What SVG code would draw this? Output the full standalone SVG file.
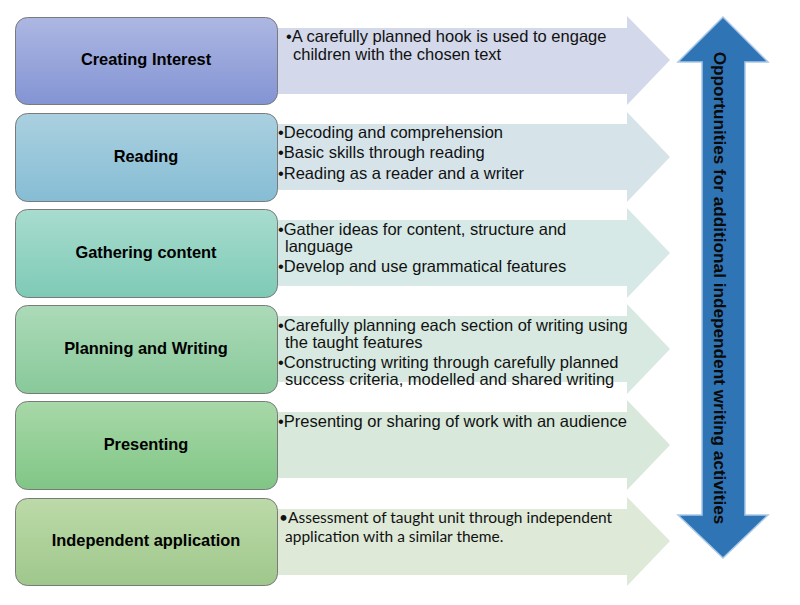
<svg xmlns="http://www.w3.org/2000/svg" width="800" height="605" viewBox="0 0 800 605">
<defs>
<linearGradient id="g1" x1="0" y1="0" x2="0" y2="1"><stop offset="0" stop-color="#adb7e2"/><stop offset="1" stop-color="#8394d4"/></linearGradient>
<linearGradient id="g2" x1="0" y1="0" x2="0" y2="1"><stop offset="0" stop-color="#aad0e0"/><stop offset="1" stop-color="#86bdd4"/></linearGradient>
<linearGradient id="g3" x1="0" y1="0" x2="0" y2="1"><stop offset="0" stop-color="#a8dcce"/><stop offset="1" stop-color="#7ecab6"/></linearGradient>
<linearGradient id="g4" x1="0" y1="0" x2="0" y2="1"><stop offset="0" stop-color="#acdab8"/><stop offset="1" stop-color="#88c99a"/></linearGradient>
<linearGradient id="g5" x1="0" y1="0" x2="0" y2="1"><stop offset="0" stop-color="#a8d8a8"/><stop offset="1" stop-color="#80c686"/></linearGradient>
<linearGradient id="g6" x1="0" y1="0" x2="0" y2="1"><stop offset="0" stop-color="#bcdaa8"/><stop offset="1" stop-color="#9fc78c"/></linearGradient>
</defs>
<style>
.box{stroke:#7a7a7a;stroke-width:1}
.lbl{font-family:"Liberation Sans",Arial,sans-serif;font-weight:bold;font-size:16.4px;fill:#000;text-anchor:middle}
.txt{font-family:"Liberation Sans",Arial,sans-serif;font-size:16.5px;fill:#111}
.txt2{font-family:Lato,"Open Sans",sans-serif;font-size:15.5px;fill:#111}
.vt{font-family:"Liberation Sans",Arial,sans-serif;font-weight:bold;font-size:17.2px;fill:#0a0a0a;text-anchor:middle}
</style>
<g id="arrows">
<polygon points="270,28 627,28 627,16 670,60 627,105 627,94 270,94" fill="#d3d8ea"/>
<polygon points="270,124 627,124 627,112 670,157 627,202 627,190 270,190" fill="#d6e4ea"/>
<polygon points="270,220 627,220 627,208 670,253 627,298 627,286 270,286" fill="#d6e9e6"/>
<polygon points="270,316 627,316 627,304 670,349 627,394 627,382 270,382" fill="#d7e9e0"/>
<polygon points="270,412 627,412 627,400 670,445 627,490 627,478 270,478" fill="#d8e8da"/>
<polygon points="270,509 627,509 627,497 670,541 627,586 627,575 270,575" fill="#dee9d8"/>
</g>
<g id="node1">
<rect class="box" x="15.500" y="17.500" width="262" height="87" rx="12" fill="url(#g1)"/>
<text class="lbl" x="146" y="65">Creating Interest</text>
<text class="txt" x="286" y="42">•A carefully planned hook is used to engage</text>
<text class="txt" x="293" y="60">children with the chosen text</text>
</g>
<g id="node2">
<rect class="box" x="15.500" y="113.500" width="262" height="88" rx="12" fill="url(#g2)"/>
<text class="lbl" x="146" y="162">Reading</text>
<text class="txt" x="278" y="138">•Decoding and comprehension</text>
<text class="txt" x="278" y="158">•Basic skills through reading</text>
<text class="txt" x="278" y="179">•Reading as a reader and a writer</text>
</g>
<g id="node3">
<rect class="box" x="15.500" y="209.500" width="262" height="88" rx="12" fill="url(#g3)"/>
<text class="lbl" x="146" y="258">Gathering content</text>
<text class="txt" x="278" y="235">•Gather ideas for content, structure and</text>
<text class="txt" x="285" y="252">language</text>
<text class="txt" x="278" y="272">•Develop and use grammatical features</text>
</g>
<g id="node4">
<rect class="box" x="15.500" y="305.500" width="262" height="88" rx="12" fill="url(#g4)"/>
<text class="lbl" x="146" y="354">Planning and Writing</text>
<text class="txt" x="278" y="331">•Carefully planning each section of writing using</text>
<text class="txt" x="285" y="348">the taught features</text>
<text class="txt" x="278" y="368">•Constructing writing through carefully planned</text>
<text class="txt" x="285" y="385">success criteria, modelled and shared writing</text>
</g>
<g id="node5">
<rect class="box" x="15.500" y="401.500" width="262" height="88" rx="12" fill="url(#g5)"/>
<text class="lbl" x="146" y="450">Presenting</text>
<text class="txt" x="278" y="427">•Presenting or sharing of work with an audience</text>
</g>
<g id="node6">
<rect class="box" x="15.500" y="498.500" width="262" height="87" rx="12" fill="url(#g6)"/>
<text class="lbl" x="146" y="546">Independent application</text>
<text class="txt2" x="279" y="523">•Assessment of taught unit through independent</text>
<text class="txt2" x="285" y="542">application with a similar theme.</text>
</g>
<g id="vertical">
<polygon points="723,17 768,62 745,62 745,515 768,515 723,558 678,515 702,515 702,62 678,62" fill="#2f75b5" stroke="#a9c8e8" stroke-width="1.5"/>
<text class="vt" transform="translate(714,288) rotate(90)">Opportunities for additional independent writing activities</text>
</g>
</svg>
